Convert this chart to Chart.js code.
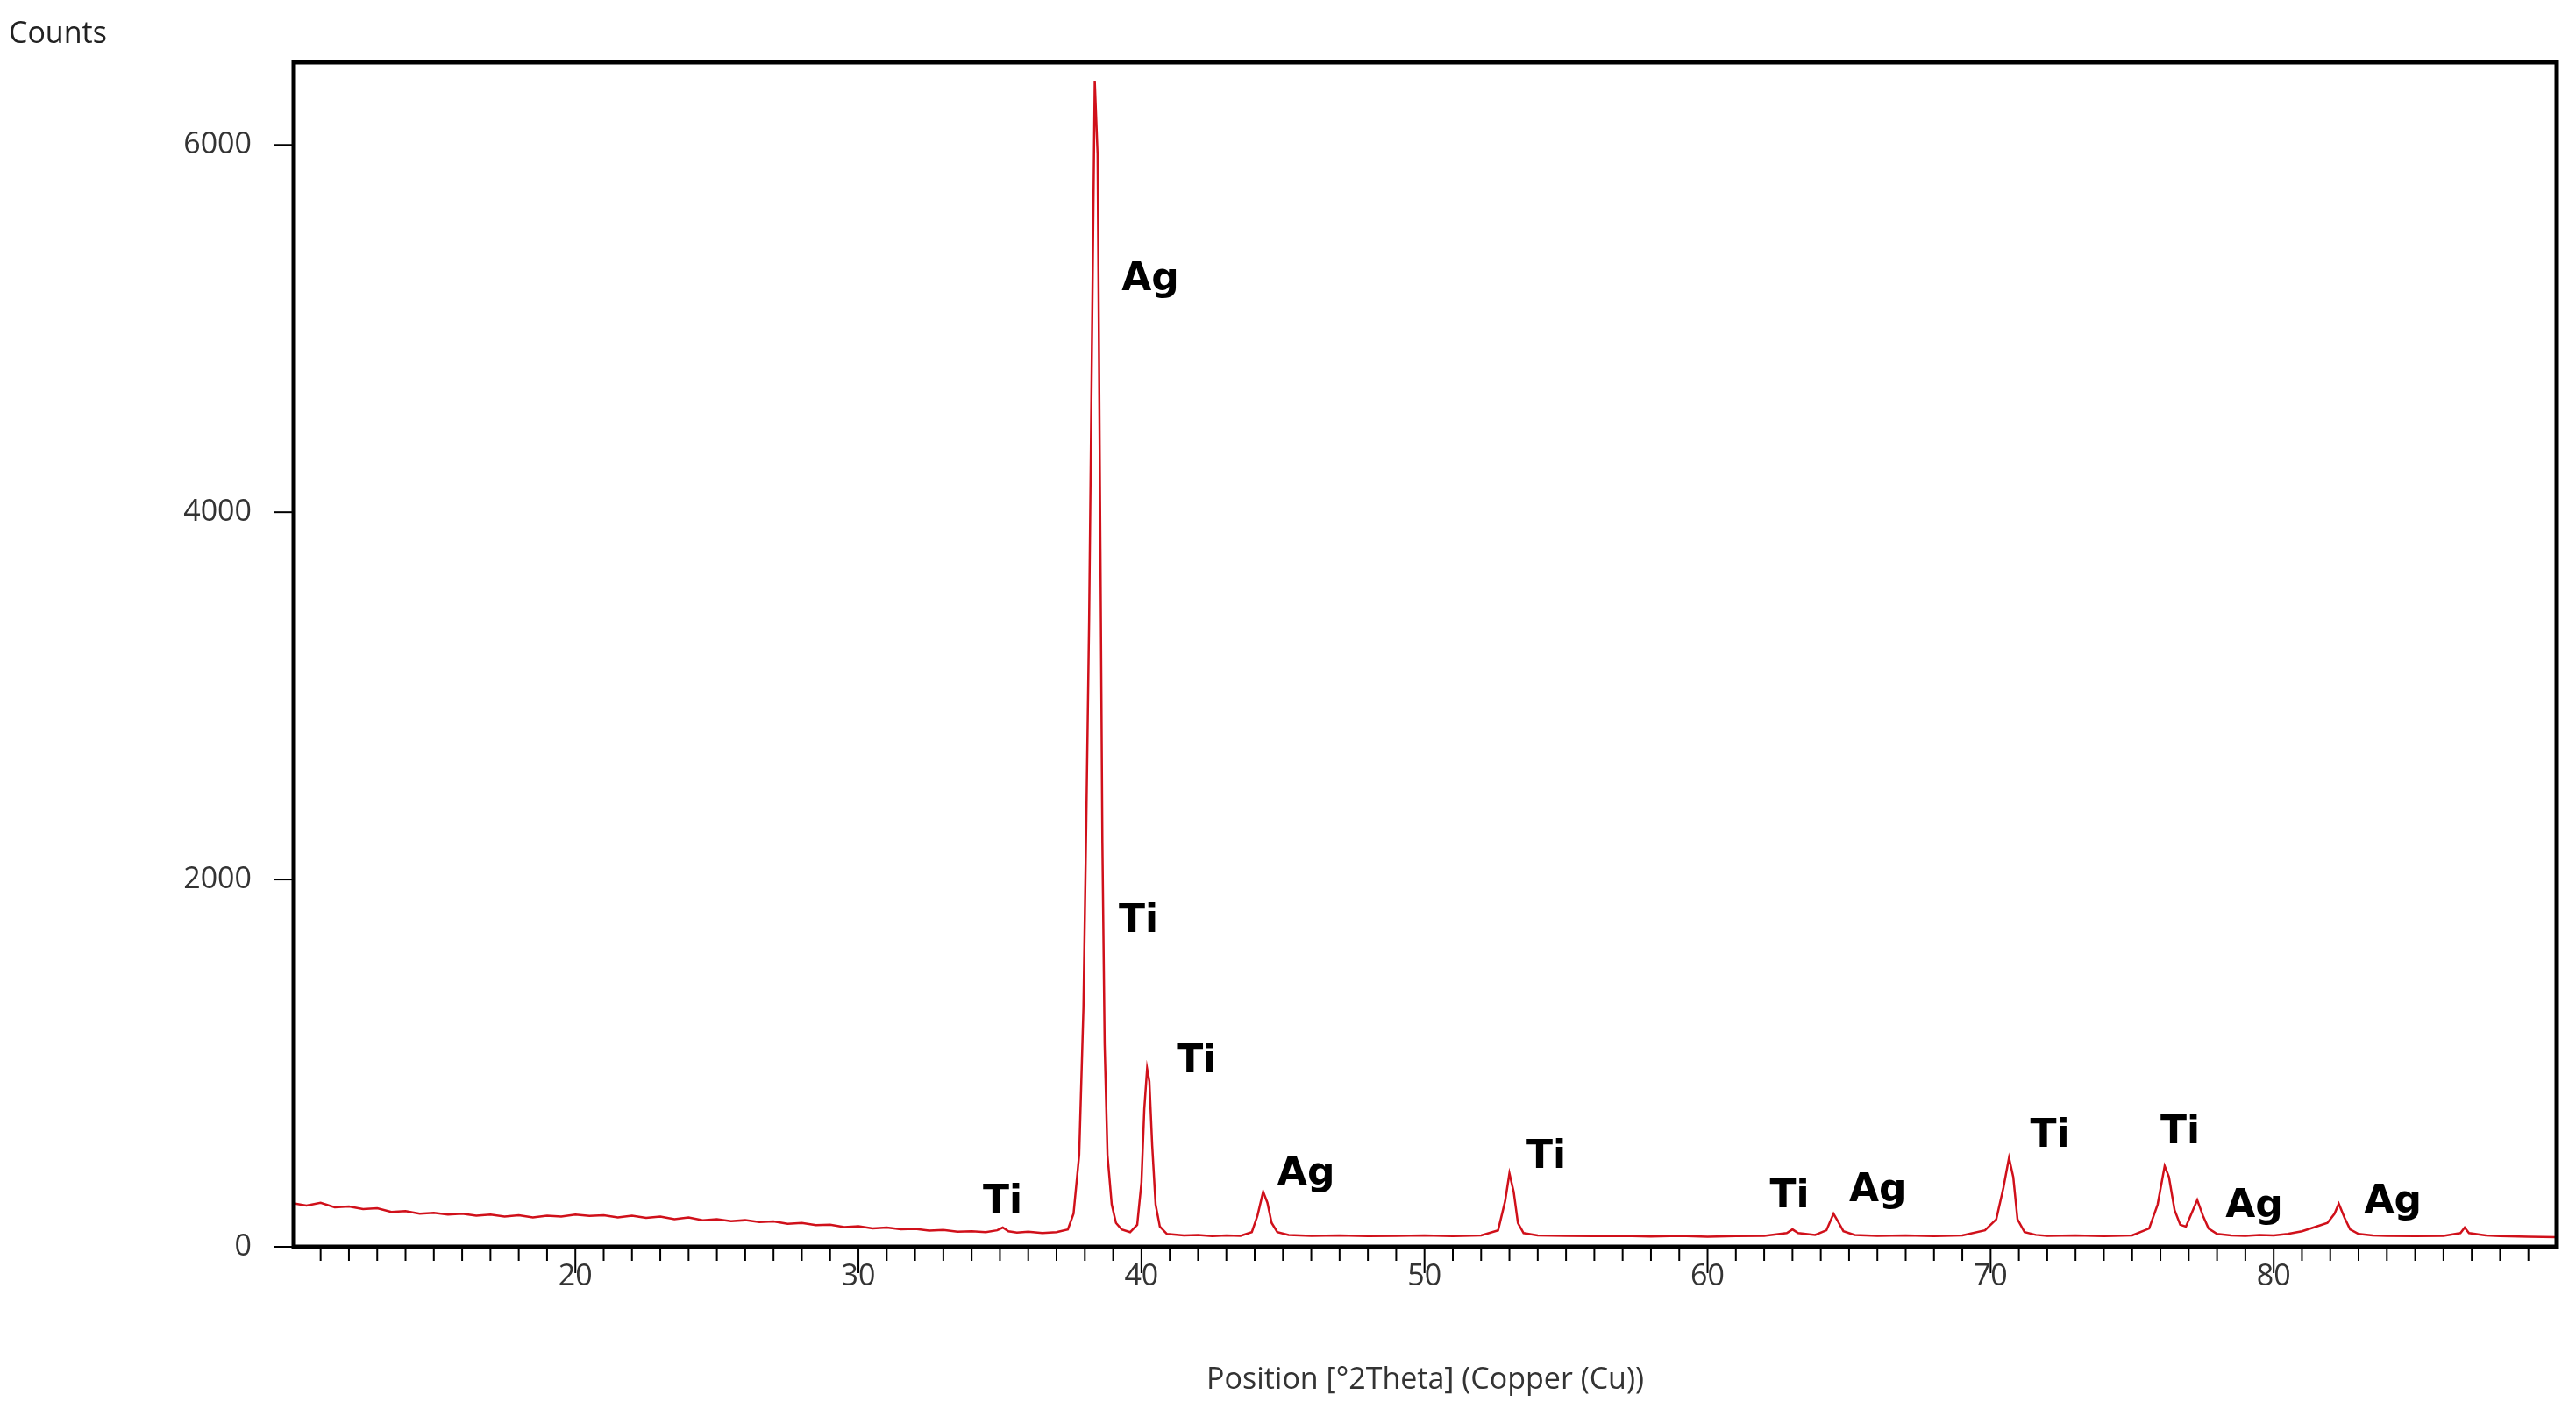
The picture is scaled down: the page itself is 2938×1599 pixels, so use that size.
<!DOCTYPE html>
<html><head><meta charset="utf-8">
<script src="https://cdn.jsdelivr.net/npm/chart.js@4"></script>
<style>html,body{margin:0;padding:0;background:#fff}#w{width:2938px;height:1599px;position:relative}</style>
</head><body><div id="w"><canvas id="c"></canvas></div>
<script>
const positions = [10.1,10.5,11,11.5,12,12.5,13,13.5,14,14.5,15,15.5,16,16.5,17,17.5,18,18.5,19,19.5,20,20.5,21,21.5,22,22.5,23,23.5,24,24.5,25,25.5,26,26.5,27,27.5,28,28.5,29,29.5,30,30.5,31,31.5,32,32.5,33,33.5,34,34.5,34.9,35.1,35.3,35.6,36,36.5,37,37.4,37.6,37.8,37.95,38.05,38.15,38.25,38.35,38.45,38.55,38.62,38.7,38.8,38.95,39.1,39.3,39.6,39.85,40.0,40.1,40.2,40.28,40.38,40.5,40.65,40.9,41.5,42,42.5,43,43.5,43.9,44.1,44.3,44.45,44.6,44.8,45.2,46,47,48,49,50,51,52,52.6,52.85,53.0,53.15,53.3,53.5,54,55,56,57,58,59,60,61,62,62.8,63.0,63.2,63.8,64.2,64.45,64.6,64.8,65.2,66,67,68,69,69.8,70.2,70.45,70.65,70.8,70.95,71.2,71.6,72,73,74,75,75.6,75.9,76.15,76.3,76.5,76.7,76.9,77.15,77.3,77.5,77.7,78,78.5,79,79.5,80,80.5,81,81.5,81.9,82.15,82.3,82.5,82.7,83,83.5,84,85,86,86.6,86.75,86.9,87.5,88,89,90];
const counts = [235,225,240,215,220,205,210,190,195,180,185,175,180,170,175,165,172,160,170,165,175,168,172,160,170,158,165,150,160,145,150,140,145,135,138,125,130,118,120,108,112,100,105,95,98,88,92,82,85,80,90,105,85,78,82,75,80,95,180,500,1300,2300,3400,4900,6350,5950,3800,2200,1100,500,230,130,95,80,120,350,750,970,900,550,230,110,70,62,65,58,62,60,80,170,300,240,130,80,65,60,62,58,60,62,58,62,90,250,400,300,130,75,62,60,58,60,56,60,55,58,60,75,95,75,65,90,180,140,85,65,60,62,58,62,90,150,320,485,380,150,80,65,60,62,58,62,100,230,440,380,200,120,110,200,255,170,100,70,62,60,65,62,70,85,110,130,180,235,160,95,70,62,60,58,60,75,105,75,62,58,55,52];
const peakLabels = ["Ag","Ti","Ti","Ag","Ti","Ti","Ag","Ti","Ti","Ag","Ag","Ti"];
const labelX = [39.3,39.2,41.25,44.8,53.6,62.2,65.0,71.4,76.0,78.3,83.2,34.4];
const labelY = [5265,1767,1005,395,485,270,305,600,620,215,240,240];
const yTicks = [0,2000,4000,6000];
const xMajor = [20,30,40,50,60,70,80];

const deco = {
  id:'deco',
  afterDraw(ch){
    const c=ch.ctx, a=ch.chartArea, xs=ch.scales.x, ys=ch.scales.y;
    c.save();
    c.strokeStyle='#000'; c.lineWidth=2;
    yTicks.forEach(v=>{const p=ys.getPixelForValue(v);c.beginPath();c.moveTo(a.left-22,p);c.lineTo(a.left,p);c.stroke();});
    for(let v=11; v<=89; v++){
      const p=xs.getPixelForValue(v);
      const len = xMajor.includes(v)?30:16;
      c.beginPath();c.moveTo(p,a.bottom);c.lineTo(p,a.bottom+len);c.stroke();
    }
    c.lineWidth=5;
    c.strokeRect(a.left,a.top,a.right-a.left,a.bottom-a.top);
    c.fillStyle='#000'; c.font='bold 44px "DejaVu Sans"'; c.textBaseline='middle'; c.textAlign='left';
    peakLabels.forEach((t,i)=>c.fillText(t, xs.getPixelForValue(labelX[i]), ys.getPixelForValue(labelY[i])));
    c.fillStyle='#222'; c.font='34px "Open Sans"'; c.textBaseline='top';
    c.fillText('Counts',10,22);
    c.restore();
  }
};

new Chart(document.getElementById('c'),{
  type:'line',
  data:{datasets:[{data:positions.map((x,i)=>({x,y:counts[i]})),borderColor:'#d0101a',borderWidth:2.5,pointRadius:0,tension:0,fill:false}]},
  options:{
    responsive:true, maintainAspectRatio:false, animation:false,
    layout:{padding:{top:71,right:22,left:0,bottom:0}},
    plugins:{legend:{display:false},tooltip:{enabled:false}},
    scales:{
      x:{type:'linear',min:10.05,max:90,
        afterBuildTicks:s=>{s.ticks=xMajor.map(v=>({value:v}));},
        afterFit:s=>{s.height=177;},
        grid:{display:false,drawTicks:false},border:{display:false},
        ticks:{padding:14,color:'#333',font:{family:'Open Sans',size:34},maxRotation:0,autoSkip:false},
        title:{display:true,text:'Position [°2Theta] (Copper (Cu))',color:'#333',font:{family:'Open Sans',size:34},padding:{top:18}}
      },
      y:{min:0,max:6450,
        afterBuildTicks:s=>{s.ticks=yTicks.map(v=>({value:v}));},
        afterFit:s=>{s.width=335;},
        grid:{display:false,drawTicks:false},border:{display:false},
        ticks:{padding:48,color:'#333',font:{family:'Open Sans',size:34},callback:v=>String(v)}
      }
    }
  },
  plugins:[deco]
});
</script></body></html>
